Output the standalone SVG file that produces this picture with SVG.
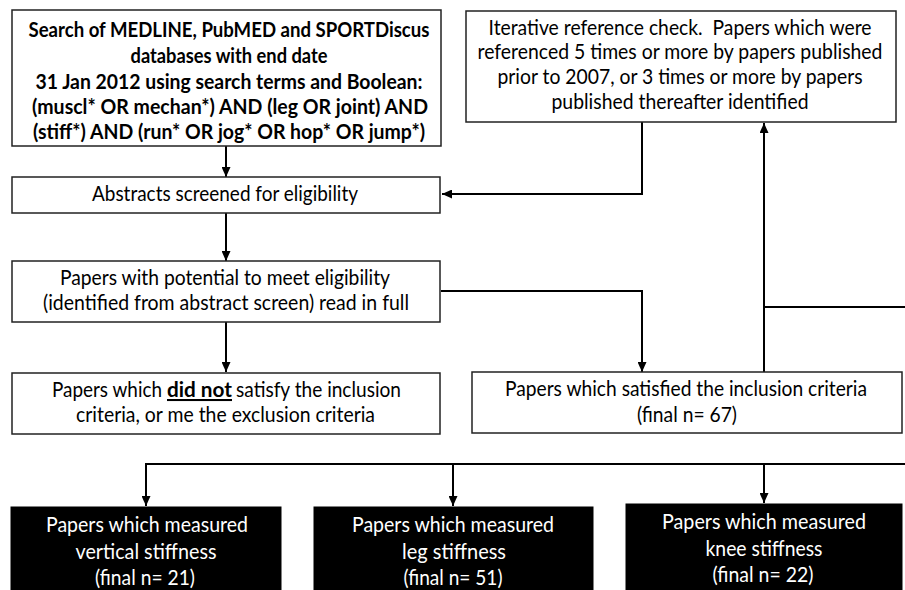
<svg xmlns="http://www.w3.org/2000/svg" width="905" height="590" viewBox="0 0 905 590">
<style>
.box{fill:#fff;stroke:#222;stroke-width:1.5}
.dark{fill:#000;stroke:#000;stroke-width:1}
.t{font-family:Lato,"Liberation Sans",sans-serif;font-size:20.5px;fill:#000;text-anchor:middle}
.s{text-anchor:start}
.b{font-weight:bold;font-size:21px}
.w{fill:#fff}
.c{fill:none;stroke:#000;stroke-width:2}
</style>
<defs>
<marker id="ah" markerUnits="userSpaceOnUse" markerWidth="10" markerHeight="9" refX="10" refY="4.5" orient="auto">
<path d="M0,0 L10,4.5 L0,9 z" fill="#000"/>
</marker>
</defs>
<rect width="905" height="590" fill="#fff"/>
<g id="connectors">
<line class="c" x1="226" y1="146" x2="226" y2="177" marker-end="url(#ah)"/>
<polyline class="c" points="642,122 642,194 442,194" marker-end="url(#ah)"/>
<line class="c" x1="226" y1="213" x2="226" y2="261" marker-end="url(#ah)"/>
<polyline class="c" points="441,291 642,291 642,372" marker-end="url(#ah)"/>
<line class="c" x1="226" y1="322" x2="226" y2="372" marker-end="url(#ah)"/>
<line class="c" x1="764" y1="372" x2="764" y2="123" marker-end="url(#ah)"/>
<line class="c" x1="764" y1="307" x2="905" y2="307"/>
<polyline class="c" points="146,506 146,464 905,464"/>
<line class="c" x1="146" y1="470" x2="146" y2="506" marker-end="url(#ah)"/>
<line class="c" x1="453" y1="464" x2="453" y2="506" marker-end="url(#ah)"/>
<line class="c" x1="764" y1="464" x2="764" y2="503" marker-end="url(#ah)"/>
</g>
<g id="search">
<rect class="box" x="12" y="10" width="429" height="136"/>
<text class="t b" x="229" y="37" textLength="401" lengthAdjust="spacingAndGlyphs">Search of MEDLINE, PubMED and SPORTDiscus</text>
<text class="t b" x="229" y="63" textLength="197" lengthAdjust="spacingAndGlyphs">databases with end date</text>
<text class="t b" x="229" y="89" textLength="387" lengthAdjust="spacingAndGlyphs">31 Jan 2012 using search terms and Boolean:</text>
<text class="t b" x="230" y="114" textLength="396" lengthAdjust="spacingAndGlyphs">(muscl* OR mechan*) AND (leg OR joint) AND</text>
<text class="t b" x="229" y="139" textLength="392" lengthAdjust="spacingAndGlyphs">(stiff*) AND (run* OR jog* OR hop* OR jump*)</text>
</g>
<g id="iterative">
<rect class="box" x="466" y="11" width="430" height="111"/>
<text class="t" x="680" y="35" textLength="383" lengthAdjust="spacingAndGlyphs">Iterative reference check. &#160;Papers which were</text>
<text class="t" x="680" y="59" textLength="405" lengthAdjust="spacingAndGlyphs">referenced 5 times or more by papers published</text>
<text class="t" x="680" y="84" textLength="365" lengthAdjust="spacingAndGlyphs">prior to 2007, or 3 times or more by papers</text>
<text class="t" x="680" y="109" textLength="257" lengthAdjust="spacingAndGlyphs">published thereafter identified</text>
</g>
<g id="abstracts">
<rect class="box" x="12" y="177" width="428" height="36"/>
<text class="t" x="225" y="201" textLength="266" lengthAdjust="spacingAndGlyphs">Abstracts screened for eligibility</text>
</g>
<g id="potential">
<rect class="box" x="12" y="261" width="428" height="61"/>
<text class="t" x="225" y="285" textLength="330" lengthAdjust="spacingAndGlyphs">Papers with potential to meet eligibility</text>
<text class="t" x="226" y="310" textLength="366" lengthAdjust="spacingAndGlyphs">(identified from abstract screen) read in full</text>
</g>
<g id="excluded">
<rect class="box" x="12" y="373" width="428" height="61"/>
<text class="t s" x="52" y="397" textLength="110" lengthAdjust="spacingAndGlyphs">Papers which</text>
<text class="t s" x="167" y="397" textLength="65" lengthAdjust="spacingAndGlyphs" font-weight="bold" text-decoration="underline">did not</text>
<text class="t s" x="236" y="397" textLength="165" lengthAdjust="spacingAndGlyphs">satisfy the inclusion</text>
<text class="t" x="225.5" y="422" textLength="299" lengthAdjust="spacingAndGlyphs">criteria, or me the exclusion criteria</text>
</g>
<g id="included">
<rect class="box" x="472" y="372" width="430" height="61"/>
<text class="t" x="686" y="396" textLength="362" lengthAdjust="spacingAndGlyphs">Papers which satisfied the inclusion criteria</text>
<text class="t" x="687" y="422" textLength="100" lengthAdjust="spacingAndGlyphs">(final n= 67)</text>
</g>
<g id="vertical">
<rect class="dark" x="11" y="507" width="270" height="90"/>
<text class="t w" x="147" y="532" textLength="202" lengthAdjust="spacingAndGlyphs">Papers which measured</text>
<text class="t w" x="146" y="559" textLength="141" lengthAdjust="spacingAndGlyphs">vertical stiffness</text>
<text class="t w" x="145" y="585" textLength="100" lengthAdjust="spacingAndGlyphs">(final n= 21)</text>
</g>
<g id="leg">
<rect class="dark" x="314" y="507" width="279" height="90"/>
<text class="t w" x="453" y="532" textLength="202" lengthAdjust="spacingAndGlyphs">Papers which measured</text>
<text class="t w" x="454" y="559" textLength="104" lengthAdjust="spacingAndGlyphs">leg stiffness</text>
<text class="t w" x="453" y="585" textLength="99" lengthAdjust="spacingAndGlyphs">(final n= 51)</text>
</g>
<g id="knee">
<rect class="dark" x="626" y="504" width="276" height="93"/>
<text class="t w" x="764" y="529" textLength="204" lengthAdjust="spacingAndGlyphs">Papers which measured</text>
<text class="t w" x="764" y="556" textLength="117" lengthAdjust="spacingAndGlyphs">knee stiffness</text>
<text class="t w" x="763" y="582" textLength="101" lengthAdjust="spacingAndGlyphs">(final n= 22)</text>
</g>
</svg>
